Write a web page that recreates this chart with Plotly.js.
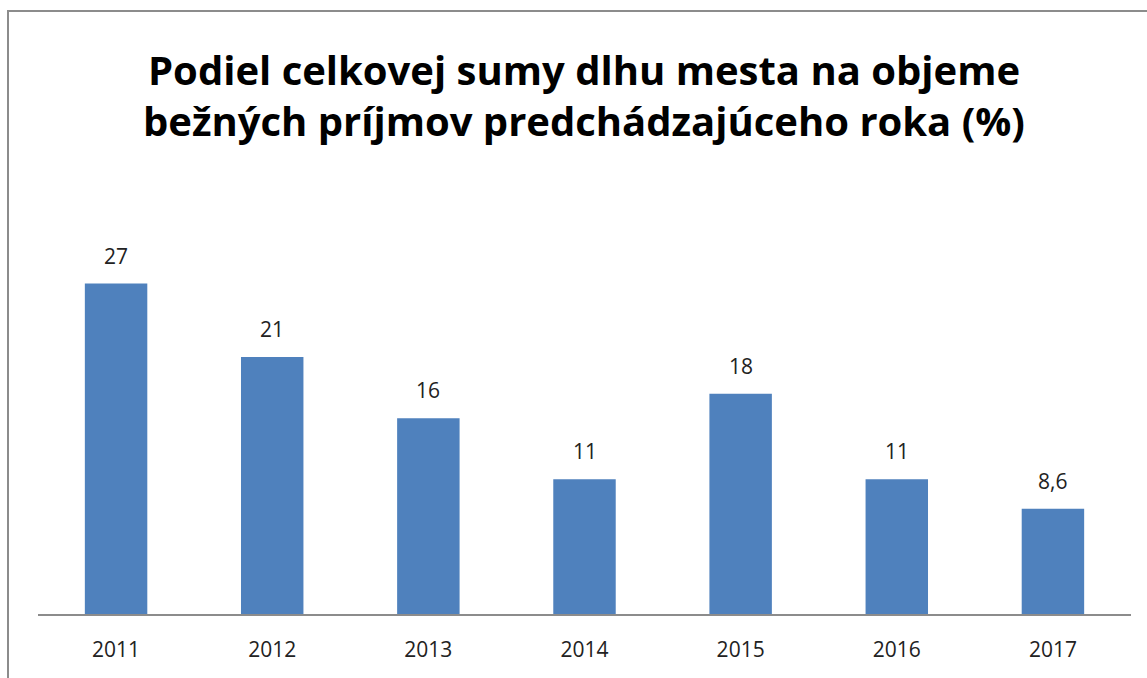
<!DOCTYPE html>
<html><head><meta charset="utf-8">
<script src="https://cdn.plot.ly/plotly-3.0.1.min.js"></script>
<style>html,body{margin:0;padding:0;background:#fff;}
#wrap{position:relative;width:1147px;height:678px;overflow:hidden;}
#chart{width:1147px;height:678px;}
#border{position:absolute;left:7px;top:10px;width:1200px;height:700px;border:2px solid #8c8c8c;pointer-events:none;}
</style>
</head><body><div id="wrap"><div id="chart"></div><div id="border"></div></div>
<script>
const years = ['2011','2012','2013','2014','2015','2016','2017'];
const values = [27, 21, 16, 11, 18, 11, 8.6];
const labels = ['27','21','16','11','18','11','8,6'];
const titleLines = ['Podiel celkovej sumy dlhu mesta na objeme', 'bežných príjmov predchádzajúceho roka (%)'];

const W = 1147, H = 678;
const mL = 38, mR = 16, mT = 170, mB = 64;
const pw = W - mL - mR, ph = H - mT - mB;
const yMax = ph / 12.24;
const py = p => (H - mB - p) / ph;
const px = p => (p - mL) / pw;

const trace = {
  type: 'bar', x: years, y: values,
  marker: {color: '#4F81BD'},
  width: 0.4, hoverinfo: 'none'
};
const ann = years.map((c, i) => ({
  x: i, y: values[i], text: labels[i], showarrow: false,
  yanchor: 'bottom', yshift: 12,
  font: {family: 'Open Sans, sans-serif', size: 21, color: '#222'}
}));
const titleY = [69, 121];
titleLines.forEach((t, i) => ann.push({
  xref: 'paper', yref: 'paper', x: px(584), y: py(titleY[i]),
  xanchor: 'center', yanchor: 'middle', showarrow: false,
  text: '<b>' + t + '</b>',
  font: {family: 'Open Sans, sans-serif', size: 40, color: '#000'}
}));
const layout = {
  width: W, height: H,
  margin: {l: mL, r: mR, t: mT, b: mB},
  paper_bgcolor: '#fff', plot_bgcolor: '#fff',
  showlegend: false,
  xaxis: {
    type: 'category', range: [-0.5, 6.5], autorange: false,
    showline: true, linecolor: '#8c8c8c', linewidth: 1.5,
    ticks: '', ticklabelstandoff: 16,
    tickfont: {family: 'Open Sans, sans-serif', size: 21, color: '#222'},
    showgrid: false, zeroline: false, fixedrange: true
  },
  yaxis: {
    range: [0, yMax], autorange: false, visible: false, showgrid: false, zeroline: false, fixedrange: true
  },
  annotations: ann
};
Plotly.newPlot('chart', [trace], layout, {displayModeBar: false, staticPlot: true});
</script></body></html>
